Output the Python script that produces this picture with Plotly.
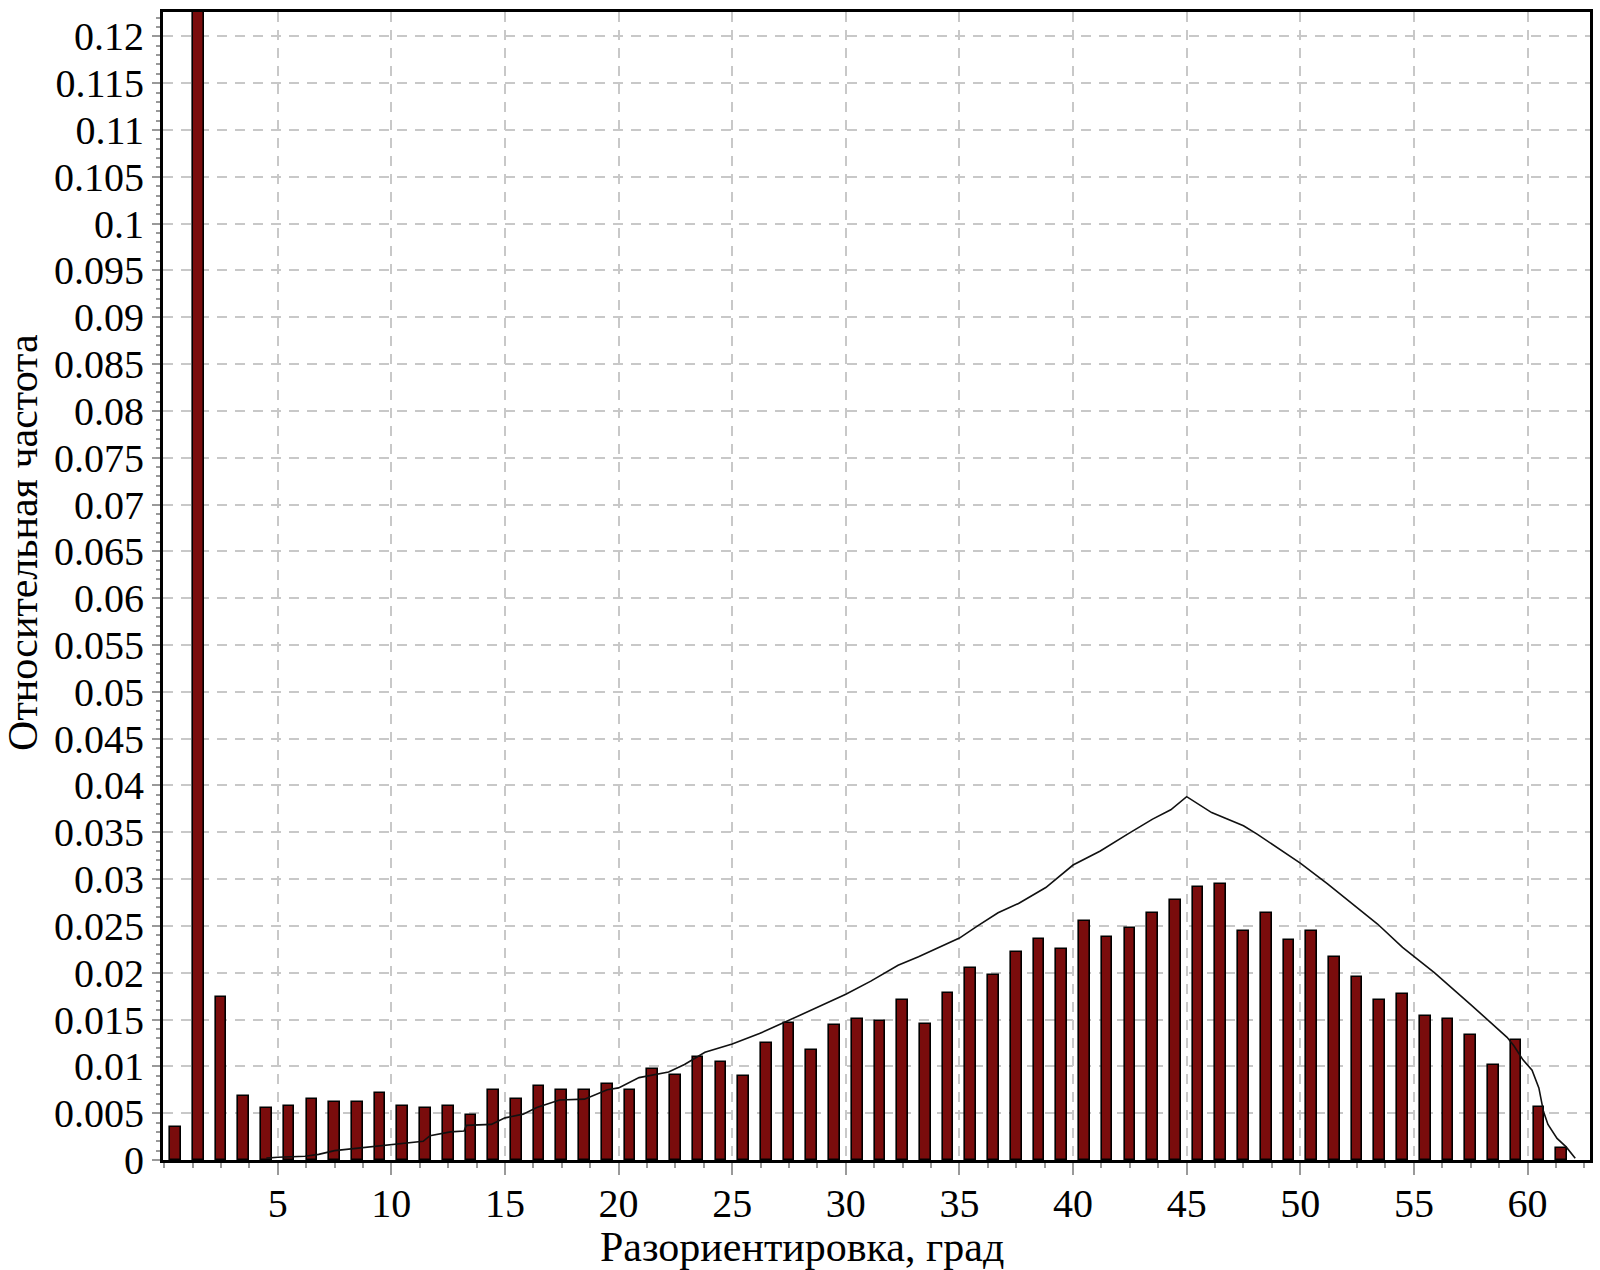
import plotly.graph_objects as go

# Misorientation bins (degrees, bin centres) and relative frequencies
bin_centers = [i + 0.5 for i in range(62)]
frequencies = [
    0.0035, 0.1300, 0.0174, 0.0068, 0.0056, 0.0058, 0.0065, 0.0062, 0.0062, 0.0072,
    0.0058, 0.0056, 0.0058, 0.0048, 0.0075, 0.0065, 0.0079, 0.0075, 0.0075, 0.0081,
    0.0075, 0.0097, 0.0091, 0.0110, 0.0105, 0.0090, 0.0125, 0.0146, 0.0118, 0.0144,
    0.0151, 0.0148, 0.0171, 0.0145, 0.0178, 0.0205, 0.0198, 0.0222, 0.0236, 0.0225,
    0.0255, 0.0238, 0.0248, 0.0264, 0.0278, 0.0292, 0.0295, 0.0245, 0.0264, 0.0235,
    0.0245, 0.0217, 0.0195, 0.0171, 0.0177, 0.0154, 0.0151, 0.0134, 0.0101, 0.0128,
    0.0057, 0.0013,
]

# Reference (random / Mackenzie) distribution curve
curve_x = [4.5, 5.0, 6.2, 6.8, 7.5, 9.1, 10.0, 11.4, 11.7, 12.6, 13.2, 13.3, 14.4, 15.0,
           15.8, 16.4, 17.4, 18.5, 19.5, 20.0, 20.9, 22.2, 22.9, 23.8, 25.0, 26.2, 27.3,
           28.5, 30.0, 31.1, 32.3, 33.2, 35.0, 35.8, 36.7, 37.6, 38.8, 40.0, 41.2, 42.4,
           43.5, 44.3, 45.0, 46.1, 47.5, 48.1, 50.0, 51.2, 52.3, 53.4, 54.5, 55.2, 55.9,
           57.5, 59.1, 59.4, 59.8, 60.2, 60.5, 60.7, 60.9, 61.3, 61.7, 62.1]
curve_y = [0.0002, 0.0003, 0.0004, 0.0006, 0.0010, 0.0014, 0.0017, 0.0020, 0.0026, 0.0030,
           0.0031, 0.0037, 0.0038, 0.0045, 0.0049, 0.0056, 0.0064, 0.0065, 0.0075, 0.0077,
           0.0088, 0.0094, 0.0102, 0.0115, 0.0124, 0.0135, 0.0147, 0.0160, 0.0177, 0.0191,
           0.0208, 0.0217, 0.0237, 0.0250, 0.0264, 0.0274, 0.0291, 0.0315, 0.0330, 0.0348,
           0.0364, 0.0374, 0.0388, 0.0371, 0.0357, 0.0348, 0.0317, 0.0295, 0.0273, 0.0252,
           0.0227, 0.0214, 0.0200, 0.0166, 0.0131, 0.0122, 0.0107, 0.0096, 0.0077, 0.0052,
           0.0038, 0.0023, 0.0014, 0.0002]

x_tick_vals = [5, 10, 15, 20, 25, 30, 35, 40, 45, 50, 55, 60]
x_tick_text = ["5", "10", "15", "20", "25", "30", "35", "40", "45", "50", "55", "60"]
y_tick_vals = [i * 0.005 for i in range(25)]
y_tick_text = ["0", "0.005", "0.01", "0.015", "0.02", "0.025", "0.03", "0.035", "0.04",
               "0.045", "0.05", "0.055", "0.06", "0.065", "0.07", "0.075", "0.08", "0.085",
               "0.09", "0.095", "0.1", "0.105", "0.11", "0.115", "0.12"]
x_title = "Разориентировка, град"
y_title = "Относительная частота"

FONT = "Liberation Serif, Times New Roman, serif"
TICK_SIZE = 40
TITLE_SIZE = 42

fig = go.Figure()
fig.add_trace(go.Bar(
    x=bin_centers, y=frequencies, width=0.47,
    marker=dict(color="#7a0c0c", line=dict(color="#000000", width=1.6)),
    showlegend=False,
))
fig.add_trace(go.Scatter(
    x=curve_x, y=curve_y, mode="lines",
    line=dict(color="#111111", width=1.6),
    showlegend=False,
))

fig.update_layout(
    width=1600, height=1270,
    margin=dict(l=163, r=10, t=12, b=110),
    paper_bgcolor="white", plot_bgcolor="white",
    font=dict(family=FONT, size=TICK_SIZE, color="black"),
    bargap=0,
)
fig.update_xaxes(
    range=[-0.05, 62.75],
    automargin=False,
    tickmode="array", tickvals=x_tick_vals, ticktext=x_tick_text,
    ticks="outside", ticklen=12, tickwidth=1.5, tickcolor="#999999",
    ticklabelstandoff=-6,
    minor=dict(dtick=1.25, tick0=0, ticks="outside", ticklen=5, tickcolor="#999999", showgrid=False),
    showgrid=True, gridcolor="#c8c8c8", gridwidth=1.5, griddash="10px,8px",
    showline=True, linecolor="black", linewidth=3, mirror=True,
    zeroline=False,
    tickfont=dict(family=FONT, size=TICK_SIZE),
)
fig.update_yaxes(
    range=[0, 0.1226],
    automargin=False,
    tickmode="array", tickvals=y_tick_vals, ticktext=y_tick_text,
    ticks="outside", ticklen=8, tickwidth=1.5, tickcolor="#999999",
    minor=dict(dtick=0.001, tick0=0, ticks="outside", ticklen=4, tickcolor="#999999", showgrid=False),
    showgrid=True, gridcolor="#c8c8c8", gridwidth=1.5, griddash="10px,8px",
    showline=True, linecolor="black", linewidth=3, mirror=True,
    zeroline=False,
    tickfont=dict(family=FONT, size=TICK_SIZE),
)

fig.add_annotation(
    text=x_title, xref="paper", yref="paper", x=0.4478, y=0,
    xanchor="center", yanchor="middle", yshift=-87, showarrow=False,
    font=dict(family=FONT, size=TITLE_SIZE, color="black"),
)
fig.add_annotation(
    text=y_title, xref="paper", yref="paper", x=0, y=0.5375,
    xanchor="center", yanchor="middle", xshift=-140, textangle=-90, showarrow=False,
    font=dict(family=FONT, size=TITLE_SIZE, color="black"),
)

fig.write_html("out.html", config={"displayModeBar": False},
               post_script="document.body.style.margin='0';")
